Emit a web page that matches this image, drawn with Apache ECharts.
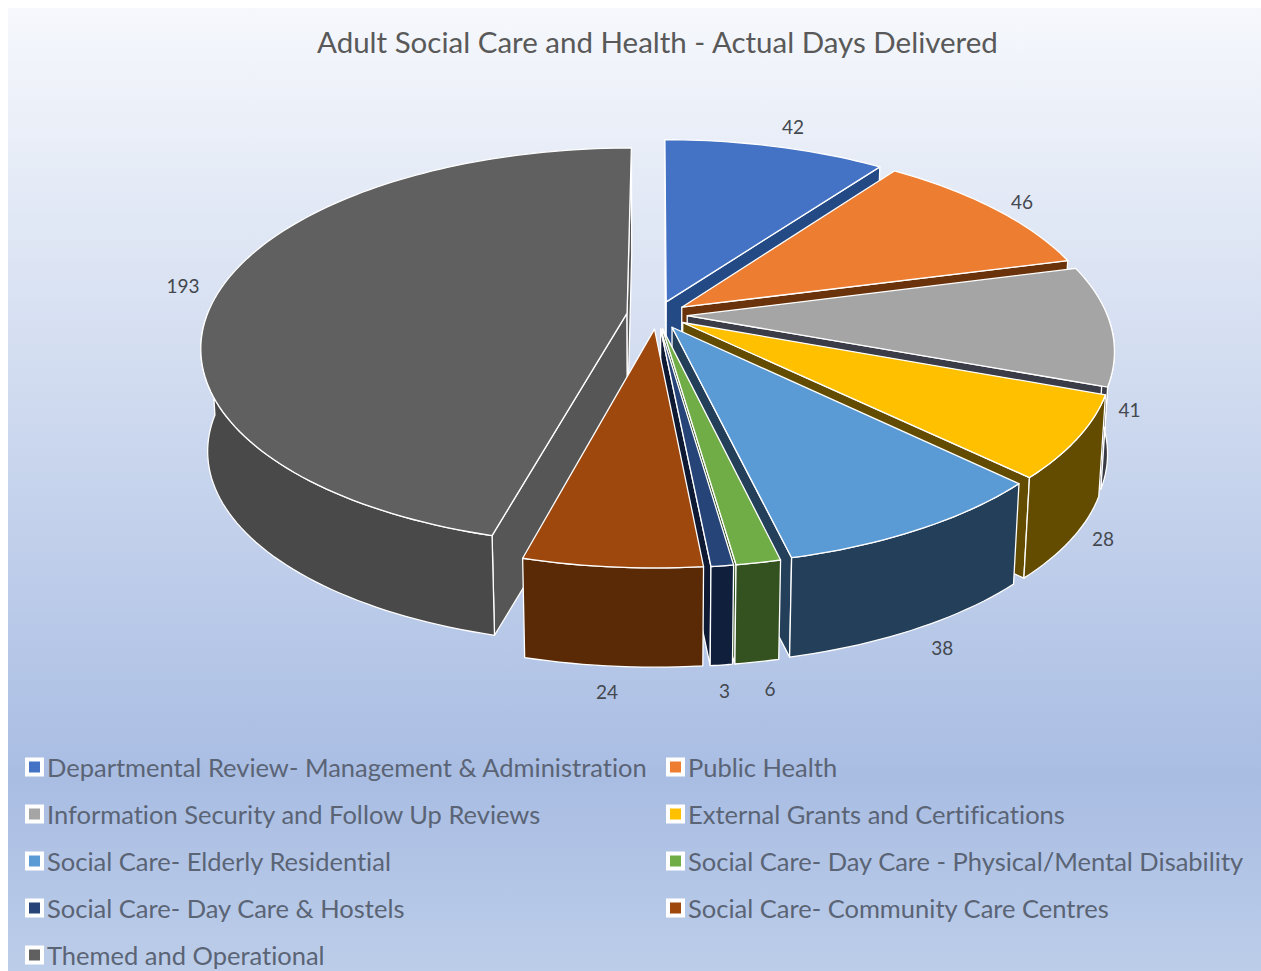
<!DOCTYPE html>
<html>
<head>
<meta charset="utf-8">
<title>Adult Social Care and Health - Actual Days Delivered</title>
<style>
  html, body { margin: 0; padding: 0; background: #fff; }
  #chart { width: 1261px; height: 971px; }
  #chart text { font-variant-ligatures: none; }
</style>
<script src="https://cdn.jsdelivr.net/npm/echarts@6/dist/echarts.min.js"></script>
</head>
<body>
<div id="chart"></div>
<script>
const chartTitle = 'Adult Social Care and Health - Actual Days Delivered';
const categories = [
  'Departmental Review- Management & Administration',
  'Public Health',
  'Information Security and Follow Up Reviews',
  'External Grants and Certifications',
  'Social Care- Elderly Residential',
  'Social Care- Day Care - Physical/Mental Disability',
  'Social Care- Day Care & Hostels',
  'Social Care- Community Care Centres',
  'Themed and Operational'
];
const actualDays = [42, 46, 41, 28, 38, 6, 3, 24, 193];

const topColors  = ['#4472C4', '#ED7D31', '#A5A5A5', '#FFC000', '#5B9BD5', '#70AD47', '#264478', '#9E480E', '#606060'];
const wallColors = ['#234A85', '#6B330C', '#3A3D48', '#634C00', '#233F5A', '#345220', '#101F3C', '#5A2A06', '#494949'];
const faceColors = ['#234A85', '#6B330C', '#3A3D48', '#634C00', '#233F5A', '#345220', '#0E1A33', '#5A2A06', '#565656'];

// Value label nudges in pixels, relative to the anchor worked out for each slice.
const labelNudges = [[11, -11], [8, -1], [-11, 84], [1, -9], [6, 2], [5, 7], [-2, 6], [-2, 5], [-10, -1]];

// Tilted-disc projection used for the 3D pie.
const view = { cx: 657, cy: 315, rx: 420, ry: 193.5, persist: 0.168, depth: 103, shrink: 0.015, explode: 0.072 };
const total = actualDays.reduce((a, b) => a + b, 0);

function project(u, v, z) {
  const s = 1 / (1 - view.persist * v);
  const f = 1 - view.shrink * z;
  return [view.cx + u * view.rx * s * f, view.cy + v * view.ry * s * f + view.depth * z];
}

function sliceAngles(index) {
  const before = actualDays.slice(0, index).reduce((a, b) => a + b, 0);
  const start = before / total * Math.PI * 2;
  const end = (before + actualDays[index]) / total * Math.PI * 2;
  return { start, end, mid: (start + end) / 2 };
}

function rimPoint(ang, a, z, r) {
  const ox = view.explode * Math.sin(ang.mid);
  const oy = -view.explode * Math.cos(ang.mid);
  return project(ox + (r === undefined ? 1 : r) * Math.sin(a), oy - (r === undefined ? 1 : r) * Math.cos(a), z);
}

function signedArea(pts) {
  let sum = 0;
  pts.forEach((p, i) => {
    const q = pts[(i + 1) % pts.length];
    sum += p[0] * q[1] - q[0] * p[1];
  });
  return sum;
}

const edgeStyle = { stroke: '#ffffff', lineWidth: 1.3, lineJoin: 'round' };

function renderSlice(index) {
  return function (params, api) {
    const ang = sliceAngles(index);
    const children = [];
    const steps = Math.max(6, Math.ceil((ang.end - ang.start) * 40));
    const apexTop = rimPoint(ang, 0, 0, 0);
    const apexBot = rimPoint(ang, 0, 1, 0);

    // Cut faces, kept only when they turn towards the viewer.
    const startFace = [apexTop, rimPoint(ang, ang.start, 0), rimPoint(ang, ang.start, 1), apexBot];
    const endFace = [apexTop, rimPoint(ang, ang.end, 0), rimPoint(ang, ang.end, 1), apexBot];
    if (signedArea(startFace) < 0) {
      children.push({ type: 'polygon', shape: { points: startFace }, style: Object.assign({ fill: faceColors[index] }, edgeStyle) });
    }
    if (signedArea(endFace) > 0) {
      children.push({ type: 'polygon', shape: { points: endFace }, style: Object.assign({ fill: faceColors[index] }, edgeStyle) });
    }

    // Outer wall, limited to the part of the rim that faces forward.
    const upper = [];
    const lower = [];
    for (let i = 0; i <= steps; i++) {
      const a = ang.start + (ang.end - ang.start) * i / steps;
      if (Math.cos(a) < 0.03) {
        upper.push(rimPoint(ang, a, 0));
        lower.push(rimPoint(ang, a, 1));
      }
    }
    if (upper.length > 1) {
      children.push({
        type: 'polygon',
        shape: { points: upper.concat(lower.reverse()) },
        style: Object.assign({ fill: wallColors[index] }, edgeStyle)
      });
    }

    // Top face.
    const top = [apexTop];
    for (let i = 0; i <= steps; i++) {
      top.push(rimPoint(ang, ang.start + (ang.end - ang.start) * i / steps, 0));
    }
    children.push({ type: 'polygon', shape: { points: top }, style: Object.assign({ fill: topColors[index] }, edgeStyle) });

    // Value label just outside the rim; front slices sit below their wall.
    const front = Math.cos(ang.mid) < -0.1;
    const anchor = rimPoint(ang, ang.mid, front ? 1 : 0, 1.07);
    children.push({
      type: 'text',
      style: {
        text: String(api.value(0)),
        x: anchor[0] + labelNudges[index][0],
        y: anchor[1] + labelNudges[index][1],
        align: 'center',
        verticalAlign: 'middle',
        fill: '#44484f',
        font: '19px Lato'
      }
    });
    return { type: 'group', children };
  };
}

// Back slices are painted first so nearer ones overlap them.
const depthOrder = actualDays.map((_, i) => i).sort((a, b) => Math.cos(sliceAngles(b).mid) - Math.cos(sliceAngles(a).mid));

const series = categories.map((name, i) => ({
  type: 'custom',
  name,
  coordinateSystem: 'none',
  z: 2 + depthOrder.indexOf(i),
  silent: true,
  itemStyle: { color: topColors[i] },
  data: [actualDays[i]],
  renderItem: renderSlice(i)
}));

const legendBase = {
  orient: 'vertical',
  top: 754,
  height: 260,
  icon: 'rect',
  itemWidth: 15,
  itemHeight: 15,
  itemGap: 21,
  padding: 0,
  selectedMode: false,
  itemStyle: { borderColor: '#ffffff', borderWidth: 4 },
  textStyle: { fontFamily: 'Lato', fontSize: 25.5, color: '#5a6475' }
};

const chart = echarts.init(document.getElementById('chart'), null, { renderer: 'svg' });
chart.setOption({
  animation: false,
  backgroundColor: '#ffffff',
  title: {
    text: chartTitle,
    left: 317,
    top: 26,
    padding: 0,
    textStyle: { fontFamily: 'Lato', fontSize: 29.5, fontWeight: 'normal', color: '#595959' }
  },
  legend: [
    Object.assign({}, legendBase, { left: 25, data: categories.filter((_, i) => i % 2 === 0) }),
    Object.assign({}, legendBase, { left: 666, data: categories.filter((_, i) => i % 2 === 1) })
  ],
  graphic: [{
    type: 'rect',
    z: -1,
    silent: true,
    shape: { x: 8, y: 8, width: 1253, height: 963 },
    style: {
      fill: {
        type: 'linear', x: 0, y: 0, x2: 0, y2: 1,
        colorStops: [
          { offset: 0, color: '#f6f8fc' },
          { offset: 0.8, color: '#a9bde3' },
          { offset: 1, color: '#bccde9' }
        ]
      }
    }
  }],
  series
});
</script>
</body>
</html>
